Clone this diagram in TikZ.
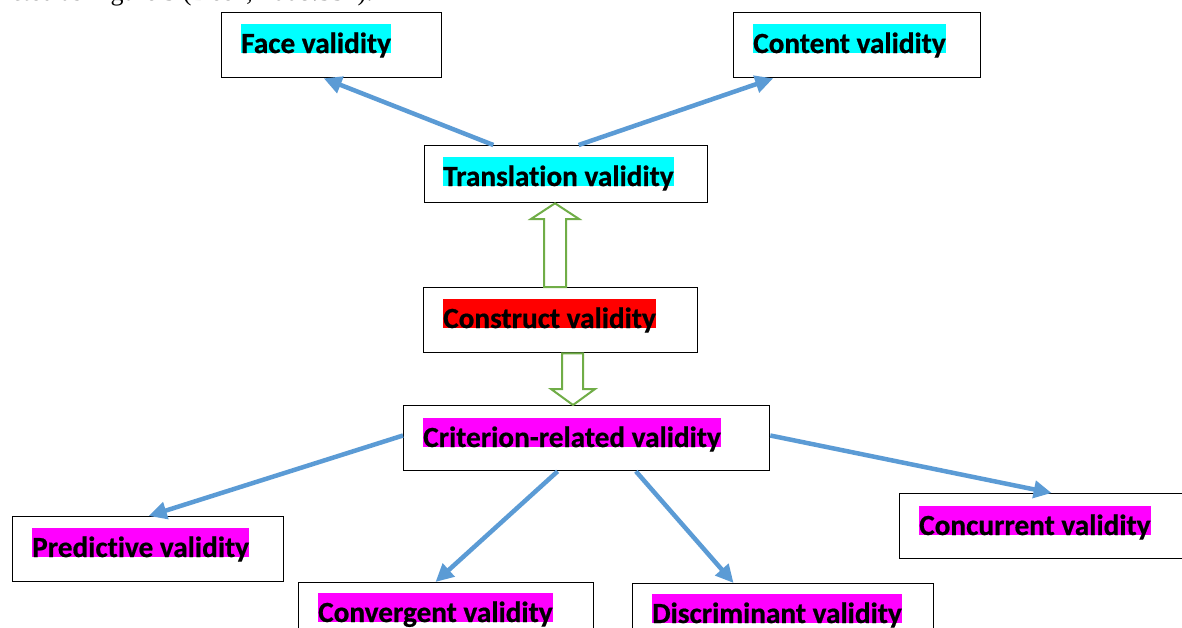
\documentclass[tikz,border=0pt]{standalone}
\usepackage{fontspec}
\setmainfont{Carlito}[Ligatures=NoCommon, BoldFeatures={FakeBold=0.6}]
\newfontfamily\serifcap{Liberation Serif}
\usetikzlibrary{arrows.meta,calc}
\definecolor{arrowblue}{HTML}{5B9BD5}
\definecolor{arrowgreen}{HTML}{70AD47}
\definecolor{hlcyan}{HTML}{00FFFF}
\definecolor{hlmagenta}{HTML}{FF00FF}
\definecolor{hlred}{HTML}{FF0000}
\begin{document}
\begin{tikzpicture}[x=1pt,y=-1pt,
  valbox/.style={draw=black, line width=1.3pt, fill=white, rectangle, inner sep=0pt, anchor=north west},
  lbl/.style={font=\fontsize{29.25}{30}\selectfont\bfseries, inner sep=0pt, text height=29pt, text depth=0pt, anchor=base west},
  barrow/.style={draw=arrowblue, line width=4.5pt, -{Triangle[length=18pt,width=17pt]}},
  garrow/.style={draw=arrowgreen, line width=2pt, fill=white, line join=miter}
]
\clip (0,0) rectangle (1182,627);
\fill[white] (0,0) rectangle (1182,627);

% caption remnant
\node[font=\serifcap\fontsize{26}{28}\selectfont, anchor=base east, inner sep=0pt] (cap) at (373,0) {cted as Figure 3 (Deen, 2008:337).};

% boxes
\node[valbox, minimum width=220pt, minimum height=65pt] (face) at (221,12) {};
\node[valbox, minimum width=247pt, minimum height=65pt] (cont) at (733,12) {};
\node[valbox, minimum width=283pt, minimum height=57pt] (trans) at (424,145) {};
\node[valbox, minimum width=274pt, minimum height=65pt] (cons) at (423,287) {};
\node[valbox, minimum width=366pt, minimum height=65pt] (crit) at (403,405) {};
\node[valbox, minimum width=271pt, minimum height=65pt] (pred) at (12,516) {};
\node[valbox, minimum width=295pt, minimum height=65pt] (conv) at (298,582) {};
\node[valbox, minimum width=301pt, minimum height=65pt] (disc) at (632,583) {};
\node[valbox, minimum width=283pt, minimum height=65pt] (conc) at (899,493) {};

% labels
\node[lbl, fill=hlcyan] (facet) at (241,53) {Face validity};
\node[lbl, fill=hlcyan] (contt) at (753,53) {Content validity};
\node[lbl, fill=hlcyan] (transt) at (443,186) {Translation validity};
\node[lbl, fill=hlred] (const) at (443,328) {Construct validity};
\node[lbl, fill=hlmagenta] (critt) at (423,447) {Criterion-related validity};
\node[lbl, fill=hlmagenta] (predt) at (32,557) {Predictive validity};
\node[lbl, fill=hlmagenta] (convt) at (318,622) {Convergent validity};
\node[lbl, fill=hlmagenta] (disct) at (652,623) {Discriminant validity};
\node[lbl, fill=hlmagenta] (conct) at (919,535) {Concurrent validity};

% blue connectors
\draw[barrow] ($(trans.north west)!0.244!(trans.north east)$) -- ($(face.south west)!0.464!(face.south east)$);
\draw[barrow] ($(trans.north west)!0.544!(trans.north east)$) -- ($(cont.south west)!0.162!(cont.south east)$);
\draw[barrow] ($(crit.north west)!0.46!(crit.south west)$) -- ($(pred.north west)!0.502!(pred.north east)$);
\draw[barrow] ($(crit.south west)!0.421!(crit.south east)$) -- ($(conv.north west)!0.464!(conv.north east)$);
\draw[barrow] ($(crit.south west)!0.634!(crit.south east)$) -- ($(disc.north west)!0.336!(disc.north east)$);
\draw[barrow] ($(crit.north east)!0.46!(crit.south east)$) -- ($(conc.north west)!0.537!(conc.north east)$);

% green hollow arrows
\draw[garrow] (555,0 |- trans.south) -- (579,219) -- (566,219) -- (566,0 |- cons.north)
  -- (544,0 |- cons.north) -- (544,219) -- (531,219) -- cycle;
\draw[garrow] (573,0 |- crit.north) -- (595,389) -- (583,389) -- (583,0 |- cons.south)
  -- (562,0 |- cons.south) -- (562,389) -- (551,389) -- cycle;
\end{tikzpicture}
\end{document}
